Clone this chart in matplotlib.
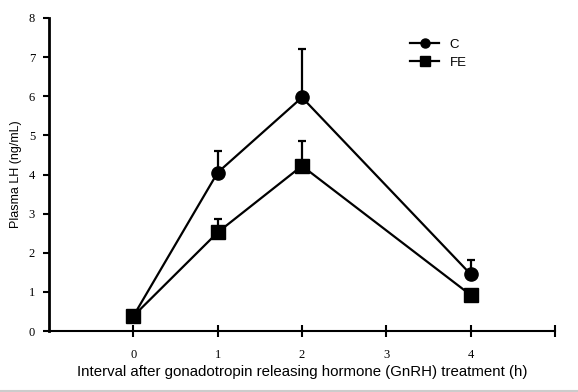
import numpy as np
import matplotlib.pyplot as plt
from matplotlib.lines import Line2D

plt.rcParams['font.family'] = 'Liberation Sans'

hours = [0, 1, 2, 4]
c_mean = [0.38, 4.05, 5.97, 1.45]
c_err = [0.0, 0.55, 1.25, 0.37]
fe_mean = [0.38, 2.52, 4.22, 0.92]
fe_err = [0.0, 0.33, 0.63, 0.0]
xticks = [0, 1, 2, 3, 4]
yticks = [0, 1, 2, 3, 4, 5, 6, 7, 8]

fig = plt.figure(figsize=(5.78, 3.92), dpi=100)
ax = fig.add_axes([49/578, 61/392, 506/578, 313/392])

ax.errorbar(hours, c_mean, yerr=[np.zeros(4), c_err], color='black', lw=1.6,
            marker='o', ms=9.5, capsize=3.2, elinewidth=1.6, capthick=1.6, zorder=3)
ax.errorbar(hours, fe_mean, yerr=[np.zeros(4), fe_err], color='black', lw=1.6,
            marker='s', ms=9.5, capsize=3.2, elinewidth=1.6, capthick=1.6, zorder=4)

ax.set_xlim(-1, 5)
ax.set_ylim(0, 8)
for s in ['top', 'right']:
    ax.spines[s].set_visible(False)
ax.spines['left'].set_linewidth(2)
ax.spines['bottom'].set_linewidth(1.5)

ax.set_xticks(xticks + [5])
ax.set_xticklabels([str(v) for v in xticks] + [''], family='Liberation Serif', fontsize=9)
ax.set_yticks(yticks)
ax.set_yticklabels([str(v) for v in yticks], family='Liberation Serif', fontsize=9)
ax.tick_params(axis='x', direction='inout', length=8, width=1.5, pad=9)
ax.tick_params(axis='y', direction='out', length=4, width=1.5, pad=6)

ax.set_xlabel('Interval after gonadotropin releasing hormone (GnRH) treatment (h)',
              fontsize=10.8, labelpad=3)
ax.set_ylabel('Plasma LH (ng/mL)', fontsize=9, labelpad=5)

handles = [Line2D([], [], color='black', lw=1.6, marker='o', ms=6.5),
           Line2D([], [], color='black', lw=1.6, marker='s', ms=6.5)]
ax.legend(handles, ['C', 'FE'], loc='upper left', bbox_to_anchor=(0.69, 0.973),
          frameon=False, fontsize=9.5, handlelength=2.2, handletextpad=0.8,
          labelspacing=0.45)

fig.add_artist(Line2D([0, 1], [1/392, 1/392], color='#cccccc', lw=1.5,
                      transform=fig.transFigure))

fig.savefig('out.png', dpi=100)
